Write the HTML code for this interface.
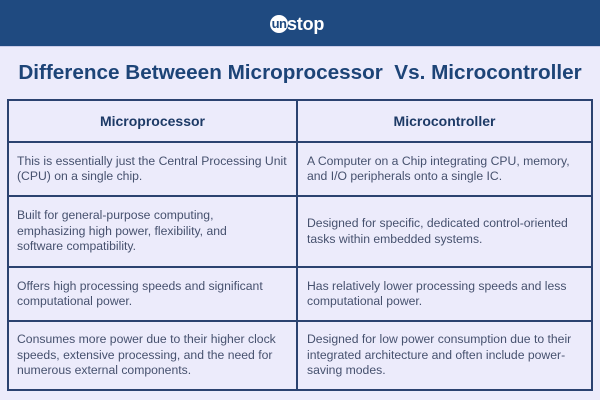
<!DOCTYPE html>
<html>
<head>
<meta charset="utf-8">
<style>
  html,body{margin:0;padding:0;}
  body{width:600px;height:400px;overflow:hidden;background:#ecebfb;position:relative;font-family:"Liberation Sans",Arial,sans-serif;}
  .hdr{position:absolute;left:0;top:0;width:600px;height:46px;background:#1f4a80;}
  .hdrline{position:absolute;left:0;top:46px;width:600px;height:1px;background:#c9cbe8;}
  .logo-c{position:absolute;left:270px;top:15px;width:18px;height:18px;border-radius:50%;background:#fff;}
  .logo-un{position:absolute;left:270px;top:15px;width:18px;height:18px;line-height:17px;text-align:center;color:#1f4a80;font-weight:bold;font-size:13px;letter-spacing:-0.6px;}
  .logo-s{position:absolute;left:287px;top:14px;color:#fff;font-weight:bold;font-size:18px;line-height:20px;letter-spacing:-0.2px;}
  .title{position:absolute;left:0;top:61px;width:600px;text-align:center;color:#1d4477;font-weight:bold;font-size:20.7px;line-height:23px;white-space:nowrap;}
  .box{position:absolute;left:7px;top:99px;width:582px;height:288px;border:2px solid #2b4270;}
  .hl{position:absolute;left:7px;width:586px;height:2px;background:#2b4270;}
  .vl{position:absolute;left:296px;top:99px;width:2px;height:292px;background:#2b4270;}
  .th{position:absolute;top:100px;height:41px;display:flex;align-items:center;justify-content:center;color:#1d3a66;font-weight:bold;font-size:14px;white-space:nowrap;}
  .cell{position:absolute;display:flex;flex-direction:column;justify-content:center;color:#46516e;font-size:12.2px;line-height:15.5px;white-space:nowrap;}
  .l{left:17px;width:278px;}
  .r{left:307px;width:284px;}
</style>
</head>
<body>
<div class="hdr"></div>
<div class="hdrline"></div>
<div class="logo-c"></div>
<div class="logo-un">un</div>
<div class="logo-s">stop</div>

<div class="title">Difference Betweeen Microprocessor&nbsp; Vs. Microcontroller</div>

<div class="box"></div>
<div class="hl" style="top:141px"></div>
<div class="hl" style="top:195px"></div>
<div class="hl" style="top:266px"></div>
<div class="hl" style="top:320px"></div>
<div class="vl"></div>

<div class="th" style="left:9px;width:287px;">Microprocessor</div>
<div class="th" style="left:298px;width:293px;">Microcontroller</div>

<div class="cell l" style="top:143px;height:52px;">This is essentially just the Central Processing Unit<br>(CPU) on a single chip.</div>
<div class="cell r" style="top:143px;height:52px;">A Computer on a Chip integrating CPU, memory,<br>and I/O peripherals onto a single IC.</div>

<div class="cell l" style="top:197px;height:69px;">Built for general-purpose computing,<br>emphasizing high power, flexibility, and<br>software compatibility.</div>
<div class="cell r" style="top:197px;height:69px;">Designed for specific, dedicated control-oriented<br>tasks within embedded systems.</div>

<div class="cell l" style="top:268px;height:52px;">Offers high processing speeds and significant<br>computational power.</div>
<div class="cell r" style="top:268px;height:52px;">Has relatively lower processing speeds and less<br>computational power.</div>

<div class="cell l" style="top:322px;height:67px;">Consumes more power due to their higher clock<br>speeds, extensive processing, and the need for<br>numerous external components.</div>
<div class="cell r" style="top:322px;height:67px;">Designed for low power consumption due to their<br>integrated architecture and often include power-<br>saving modes.</div>
</body>
</html>
